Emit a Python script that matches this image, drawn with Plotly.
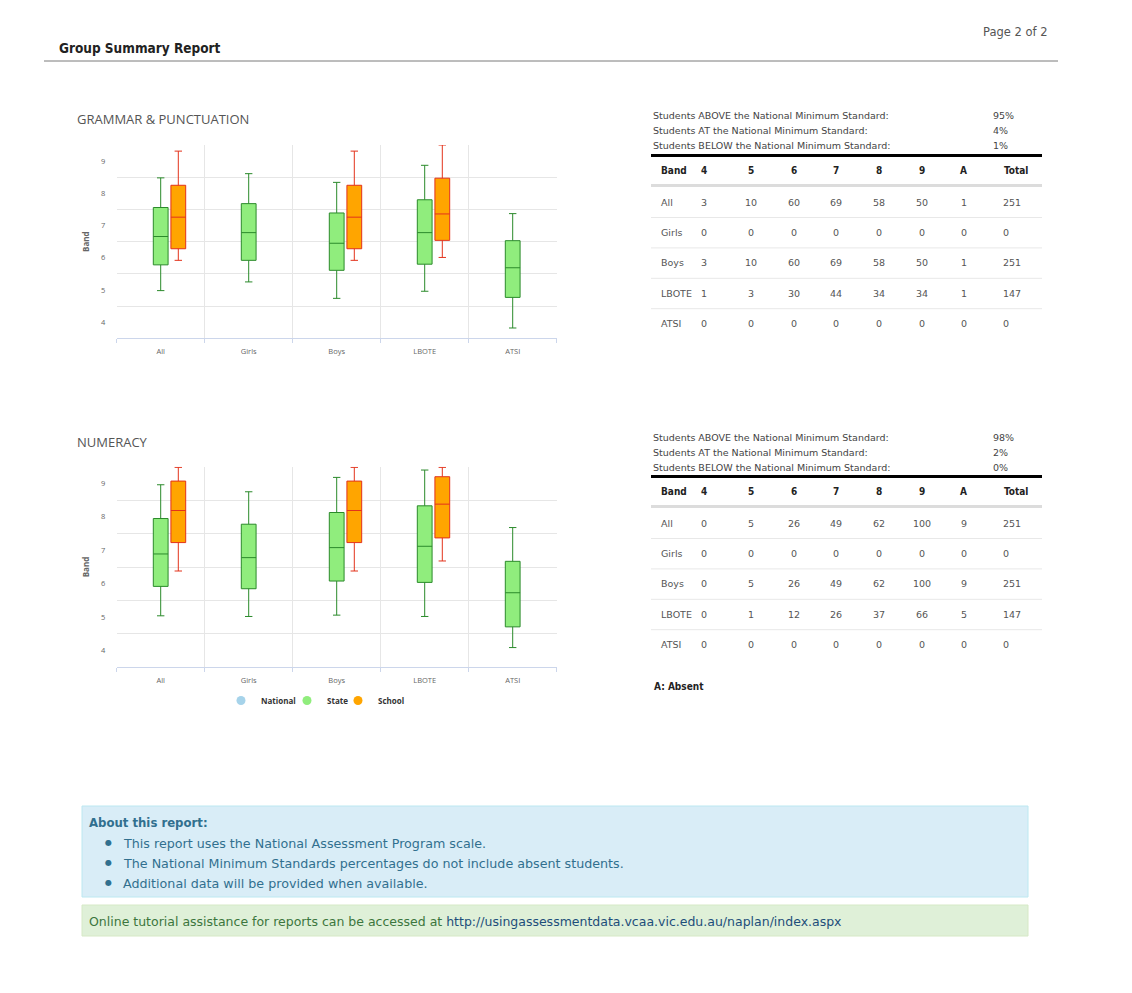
import plotly.graph_objects as go

W, H = 1132, 993

# ---------------- data ----------------
groups = ["All", "Girls", "Boys", "LBOTE", "ATSI"]
school_groups = ["All", "Boys", "LBOTE"]
band_cols = ["4", "5", "6", "7", "8", "9", "A"]

# Grammar & Punctuation - State
gp_state_low = [4.98, 5.25, 4.74, 4.96, 3.82]
gp_state_q1 = [5.78, 5.92, 5.61, 5.80, 4.77]
gp_state_med = [6.66, 6.78, 6.45, 6.78, 5.69]
gp_state_q3 = [7.56, 7.68, 7.39, 7.80, 6.53]
gp_state_high = [8.48, 8.61, 8.34, 8.87, 7.37]
# Grammar & Punctuation - School
gp_school_low = [5.92, 5.92, 6.01]
gp_school_q1 = [6.28, 6.28, 6.54]
gp_school_med = [7.26, 7.26, 7.36]
gp_school_q3 = [8.25, 8.25, 8.47]
gp_school_high = [9.31, 9.31, 9.50]

# Numeracy - State
nu_state_low = [5.04, 5.02, 5.06, 5.02, 4.09]
nu_state_q1 = [5.92, 5.85, 6.08, 6.04, 4.71]
nu_state_med = [6.89, 6.78, 7.08, 7.12, 5.73]
nu_state_q3 = [7.95, 7.78, 8.13, 8.33, 6.67]
nu_state_high = [8.96, 8.75, 9.18, 9.40, 7.68]
# Numeracy - School
nu_school_low = [6.38, 6.38, 6.68]
nu_school_q1 = [7.23, 7.23, 7.37]
nu_school_med = [8.19, 8.19, 8.38]
nu_school_q3 = [9.07, 9.07, 9.20]
nu_school_high = [9.48, 9.48, 9.48]

# National series has no values in this report
national_values = [None, None, None, None, None]

# National Minimum Standard percentages (ABOVE, AT, BELOW)
nms_labels = ["Students ABOVE the National Minimum Standard:",
              "Students AT the National Minimum Standard:",
              "Students BELOW the National Minimum Standard:"]
gp_nms = ["95%", "4%", "1%"]
nu_nms = ["98%", "2%", "0%"]

# Band counts tables
gp_all = [3, 10, 60, 69, 58, 50, 1]
gp_girls = [0, 0, 0, 0, 0, 0, 0]
gp_boys = [3, 10, 60, 69, 58, 50, 1]
gp_lbote = [1, 3, 30, 44, 34, 34, 1]
gp_atsi = [0, 0, 0, 0, 0, 0, 0]
gp_totals = [251, 0, 251, 147, 0]

nu_all = [0, 5, 26, 49, 62, 100, 9]
nu_girls = [0, 0, 0, 0, 0, 0, 0]
nu_boys = [0, 5, 26, 49, 62, 100, 9]
nu_lbote = [0, 1, 12, 26, 37, 66, 5]
nu_atsi = [0, 0, 0, 0, 0, 0, 0]
nu_totals = [251, 0, 251, 147, 0]

about_items = ["This report uses the National Assessment Program scale.",
               "The National Minimum Standards percentages do not include absent students.",
               "Additional data will be provided when available."]

# ---------------- styles ----------------
REG_FONT = "DejaVu Sans"
BOLD_FONT = "DejaVu Sans Condensed, DejaVu Sans"
CHART_FONT = "Open Sans"
STATE_FILL, STATE_LINE = "#90ed7d", "#2b8a2b"
SCHOOL_FILL, SCHOOL_LINE = "#ffa500", "#e3321b"
NATIONAL_COLOR = "#a6d3ea"
GRID = "#e6e6e6"


def px(x):
    return x / W


def py(y):
    return 1 - y / H


fig = go.Figure()


def add_boxes(xa, ya, st, sc):
    fig.add_trace(go.Box(name="National", x=groups, y=national_values, xaxis=xa, yaxis=ya,
                         offsetgroup="National", alignmentgroup="g",
                         fillcolor=NATIONAL_COLOR, line=dict(color="#6aa9c9", width=1),
                         showlegend=False, hoverinfo="skip"))
    fig.add_trace(go.Box(name="State", x=groups, q1=st[1], median=st[2], q3=st[3],
                         lowerfence=st[0], upperfence=st[4], xaxis=xa, yaxis=ya,
                         offsetgroup="State", alignmentgroup="g",
                         fillcolor=STATE_FILL, line=dict(color=STATE_LINE, width=1),
                         showlegend=False, hoverinfo="skip"))
    fig.add_trace(go.Box(name="School", x=school_groups, q1=sc[1], median=sc[2], q3=sc[3],
                         lowerfence=sc[0], upperfence=sc[4], xaxis=xa, yaxis=ya,
                         offsetgroup="School", alignmentgroup="g",
                         fillcolor=SCHOOL_FILL, line=dict(color=SCHOOL_LINE, width=1),
                         showlegend=False, hoverinfo="skip"))


add_boxes("x", "y",
          [gp_state_low, gp_state_q1, gp_state_med, gp_state_q3, gp_state_high],
          [gp_school_low, gp_school_q1, gp_school_med, gp_school_q3, gp_school_high])
add_boxes("x2", "y2",
          [nu_state_low, nu_state_q1, nu_state_med, nu_state_q3, nu_state_high],
          [nu_school_low, nu_school_q1, nu_school_med, nu_school_q3, nu_school_high])

legend_items = [("National", NATIONAL_COLOR, "legend", 221),
                ("State", STATE_FILL, "legend2", 287),
                ("School", SCHOOL_FILL, "legend3", 338)]
for nm, col, lg, _ in legend_items:
    fig.add_trace(go.Scatter(x=[None], y=[None], mode="markers", name=nm, legend=lg,
                             marker=dict(color=col, size=9, symbol="circle"),
                             xaxis="x2", yaxis="y2", hoverinfo="skip"))

xaxis_style = dict(type="category", categoryorder="array", categoryarray=groups,
                   range=[-0.5, 4.5], tickson="boundaries", ticks="outside", ticklen=4,
                   tickcolor="#ccd6eb", showgrid=True, gridcolor=GRID, showline=True,
                   linecolor="#ccd6eb", zeroline=False, ticklabelstandoff=6,
                   tickfont=dict(family=CHART_FONT, size=7.5, color="#666"))
yaxis_style = dict(range=[3.5, 9.5], tickvals=[4, 5, 6, 7, 8, 9], showgrid=False,
                   zeroline=False, showline=False, ticks="outside", ticklen=9,
                   tickcolor="rgba(0,0,0,0)",
                   minor=dict(tickvals=[3.5, 4.5, 5.5, 6.5, 7.5, 8.5, 9.5], showgrid=True,
                              gridcolor=GRID, ticks=""),
                   tickfont=dict(family=CHART_FONT, size=7.5, color="#666"),
                   title=dict(text="Band", standoff=10,
                              font=dict(family=CHART_FONT, size=8, color="#666", weight="bold")))

legend_style = dict(orientation="h", xanchor="left", y=py(686), yanchor="top",
                    font=dict(family=CHART_FONT, size=8, color="#333", weight="bold"),
                    itemwidth=30, bgcolor="rgba(0,0,0,0)")

fig.update_layout(
    width=W, height=H, margin=dict(l=0, r=0, t=0, b=0),
    paper_bgcolor="white", plot_bgcolor="white",
    boxmode="group", boxgap=0.4, boxgroupgap=0.16,
    xaxis=dict(domain=[px(116.7), px(556.7)], anchor="y", **xaxis_style),
    yaxis=dict(domain=[py(338.3), py(145)], anchor="x", **yaxis_style),
    xaxis2=dict(domain=[px(116.7), px(556.7)], anchor="y2", **xaxis_style),
    yaxis2=dict(domain=[py(667.3), py(466.7)], anchor="x2", **yaxis_style),
    legend=dict(x=px(legend_items[0][3]), **legend_style),
    legend2=dict(x=px(legend_items[1][3]), **legend_style),
    legend3=dict(x=px(legend_items[2][3]), **legend_style),
    showlegend=True,
)

annotations = []
shapes = []


def text(x, y, s, size=10, color="#333", bold=False, anchor="left", family=None):
    if family is None:
        family = BOLD_FONT if bold else REG_FONT
    annotations.append(dict(xref="paper", yref="paper", x=px(x), y=py(y), text=s,
                            showarrow=False, xanchor=anchor, yanchor="middle",
                            font=dict(family=family, size=size, color=color,
                                      weight="bold" if bold else "normal")))


def hline(x0, x1, y, color, width):
    shapes.append(dict(type="line", xref="paper", yref="paper", x0=px(x0), x1=px(x1),
                       y0=py(y), y1=py(y), line=dict(color=color, width=width)))


# header
text(57, 47.5, "Group Summary Report", size=13.5, color="#222", bold=True)
text(1050, 32, "Page 2 of 2", size=11.5, color="#555", anchor="right")
hline(44, 1058, 61, "#7a7a7a", 1)

# chart titles
text(75, 119.5, "GRAMMAR & PUNCTUATION", size=13, color="#555", family=CHART_FONT)
text(75, 441.5, "NUMERACY", size=13, color="#555", family=CHART_FONT)

# tables
col_centers = [703.5, 750.5, 793.5, 835.5, 878.5, 921.5, 964]


def table(off, nms, rows, totals):
    for i, (lab, val) in enumerate(zip(nms_labels, nms)):
        text(651, 116 + off + 15 * i, lab, size=9.5, color="#444")
        text(991, 116 + off + 15 * i, val, size=9.5, color="#444")
    hline(651, 1042, 155.5 + off, "#000", 3)
    text(659, 170.5 + off, "Band", size=10, color="#222", bold=True)
    for c, b in zip(col_centers, band_cols):
        text(c, 170.5 + off, b, size=10, color="#222", bold=True, anchor="center")
    text(1002, 170.5 + off, "Total", size=10, color="#222", bold=True)
    hline(651, 1042, 185.5 + off, "#dcdcdc", 3)
    for r, (g, vals, tot) in enumerate(zip(groups, rows, totals)):
        yy = 202 + off + 30.4 * r
        text(659, yy, g, size=9.5, color="#555")
        for c, v in zip(col_centers, vals):
            text(c, yy, str(v), size=9.5, color="#555", anchor="center")
        text(1001, yy, str(tot), size=9.5, color="#555")
        if r < len(groups) - 1:
            hline(651, 1042, 217.5 + off + 30.4 * r, "#e8e8e8", 1)


table(0, gp_nms, [gp_all, gp_girls, gp_boys, gp_lbote, gp_atsi], gp_totals)
table(321, nu_nms, [nu_all, nu_girls, nu_boys, nu_lbote, nu_atsi], nu_totals)
text(652, 686, "A: Absent", size=10, color="#222", bold=True)

# info boxes
shapes.append(dict(type="rect", xref="paper", yref="paper", x0=px(82), x1=px(1028),
                   y0=py(897), y1=py(806), fillcolor="#d9edf7",
                   line=dict(color="#bce8f1", width=1), layer="below"))
text(87, 822, "About this report:", size=13, color="#31708f", bold=True)
for i, item in enumerate(about_items):
    text(103, 842.5 + 20 * i, "\u25cf", size=8, color="#31708f")
    text(121, 843 + 20 * i, item, size=12.7, color="#31708f")
shapes.append(dict(type="rect", xref="paper", yref="paper", x0=px(82), x1=px(1028),
                   y0=py(936), y1=py(905), fillcolor="#dff0d8",
                   line=dict(color="#d6e9c6", width=1), layer="below"))
text(87, 921, "Online tutorial assistance for reports can be accessed at "
     "<span style='color:#1d4e7a'>http://usingassessmentdata.vcaa.vic.edu.au/naplan/index.aspx</span>",
     size=12.5, color="#3c763d")

fig.update_layout(annotations=annotations, shapes=shapes)

fig.write_html("out.html", config={"displayModeBar": False},
               post_script="document.body.style.margin='0px';")
